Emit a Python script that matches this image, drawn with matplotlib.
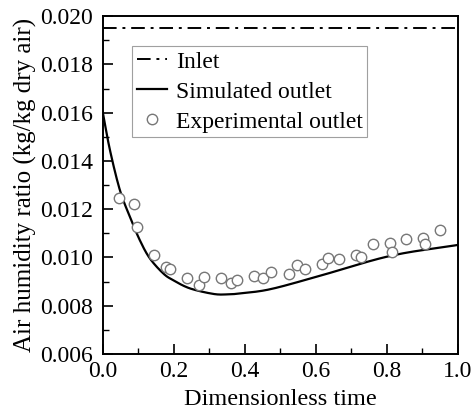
import numpy as np
import matplotlib
matplotlib.use("Agg")
import matplotlib.pyplot as plt
from matplotlib.ticker import MultipleLocator, FormatStrFormatter

plt.rcParams["font.family"] = ["Liberation Serif", "DejaVu Serif"]

# inlet humidity ratio (constant)
inlet_h = 0.0195

# simulated outlet curve
sim_t = [0.0, 0.02, 0.048, 0.076, 0.104, 0.132, 0.17, 0.198, 0.245,
         0.311, 0.35, 0.386, 0.47, 0.602, 0.808, 1.0]
sim_h = [0.0160, 0.01445, 0.01279, 0.01169, 0.01072, 0.00997, 0.00934,
         0.00906, 0.00872, 0.00849, 0.00847, 0.00851, 0.00868, 0.0092,
         0.01006, 0.01052]

# experimental outlet points
exp_t = [0.046, 0.087, 0.096, 0.144, 0.179, 0.189, 0.238, 0.270, 0.285,
         0.332, 0.361, 0.377, 0.426, 0.451, 0.475, 0.523, 0.546, 0.570,
         0.616, 0.634, 0.664, 0.713, 0.726, 0.761, 0.808, 0.815, 0.855,
         0.903, 0.906, 0.950]
exp_h = [0.01247, 0.0122, 0.01127, 0.01009, 0.00962, 0.00952, 0.00917,
         0.00888, 0.00919, 0.00915, 0.00895, 0.00906, 0.00922, 0.00917,
         0.00939, 0.00932, 0.0097, 0.00953, 0.00971, 0.00996, 0.00992,
         0.01009, 0.01001, 0.01057, 0.01061, 0.01024, 0.01075, 0.0108,
         0.01057, 0.01112]


def catmull_rom(x, y, n=20):
    """smooth curve through the read-off points"""
    x = np.asarray(x, float); y = np.asarray(y, float)
    px = np.concatenate([[2 * x[0] - x[1]], x, [2 * x[-1] - x[-2]]])
    py = np.concatenate([[2 * y[0] - y[1]], y, [2 * y[-1] - y[-2]]])
    out_x, out_y = [], []
    s = np.linspace(0, 1, n, endpoint=False)
    for i in range(1, len(px) - 2):
        for p, o in ((px, out_x), (py, out_y)):
            p0, p1, p2, p3 = p[i - 1], p[i], p[i + 1], p[i + 2]
            o.extend(0.5 * (2 * p1 + (-p0 + p2) * s
                            + (2 * p0 - 5 * p1 + 4 * p2 - p3) * s ** 2
                            + (-p0 + 3 * p1 - 3 * p2 + p3) * s ** 3))
    out_x.append(x[-1]); out_y.append(y[-1])
    return np.array(out_x), np.array(out_y)


fig = plt.figure(figsize=(4.74, 4.15), dpi=100)
ax = fig.add_axes([0.217, 0.147, 0.749, 0.814])

ax.axhline(inlet_h, color="black", ls=(0, (7, 3, 1.5, 3)), lw=1.4, label="Inlet")
ct, ch = catmull_rom(sim_t, sim_h)
ax.plot(ct, ch, color="black", lw=1.6, label="Simulated outlet")
ax.plot(exp_t, exp_h, ls="none", marker="o", ms=7.5, mfc="white",
        mec="#777777", mew=1.0, label="Experimental outlet")

ax.set_xlim(0, 1.0)
ax.set_ylim(0.006, 0.020)
ax.xaxis.set_major_locator(MultipleLocator(0.2))
ax.xaxis.set_minor_locator(MultipleLocator(0.1))
ax.yaxis.set_major_locator(MultipleLocator(0.002))
ax.yaxis.set_minor_locator(MultipleLocator(0.001))
ax.xaxis.set_major_formatter(FormatStrFormatter("%.1f"))
ax.yaxis.set_major_formatter(FormatStrFormatter("%.3f"))
ax.tick_params(which="both", direction="in", top=False, right=False,
               labelsize=17)
ax.tick_params(axis="y", pad=7)
ax.tick_params(axis="x", pad=5)
ax.tick_params(which="major", length=7, width=1.2)
ax.tick_params(which="minor", length=4, width=1.0)
for s in ax.spines.values():
    s.set_linewidth(1.4)

ax.set_xlabel("Dimensionless time", fontsize=17.5, labelpad=5)
ax.set_ylabel("Air humidity ratio (kg/kg dry air)", fontsize=18, labelpad=2)

leg = ax.legend(loc="upper left", bbox_to_anchor=(0.082, 0.911), fontsize=17,
                frameon=True, fancybox=False, borderpad=0.2, labelspacing=0.36,
                handlelength=1.3, handletextpad=0.35, borderaxespad=0)
leg.get_frame().set_edgecolor("#888888")
leg.get_frame().set_linewidth(0.8)

fig.savefig("out.png", dpi=100)
